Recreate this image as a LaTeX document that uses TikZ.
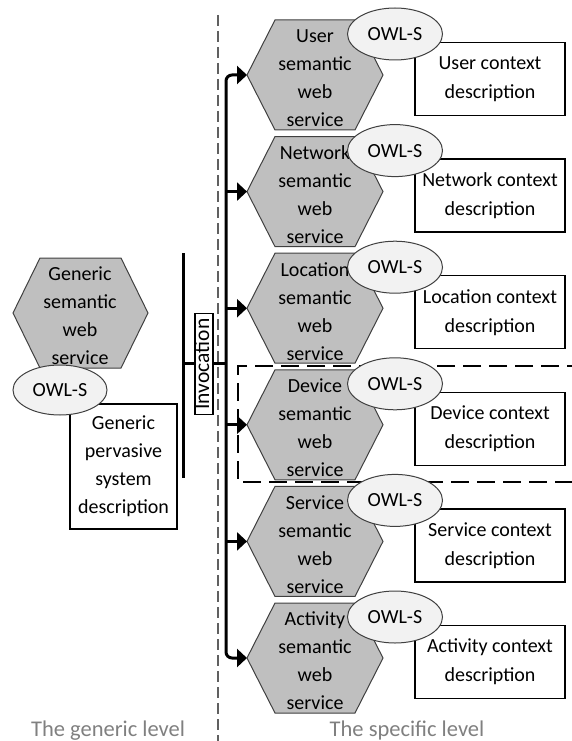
\documentclass[tikz,border=0pt]{standalone}
\usepackage{fontspec}
\setmainfont{Carlito}
\usetikzlibrary{arrows.meta,shapes.geometric}
\definecolor{hexgray}{HTML}{BFBFBF}
\definecolor{hexline}{HTML}{404040}
\definecolor{owlgray}{HTML}{F2F2F2}
\definecolor{lvlgray}{HTML}{808080}
\definecolor{sepgray}{HTML}{606060}
\begin{document}
\begin{tikzpicture}[x=1pt,y=-1pt,
  hexstyle/.style={fill=hexgray,draw=hexline,line width=1pt},
  txt/.style={font=\fontsize{20}{28}\selectfont,align=center,inner sep=0pt},
  owl/.style={ellipse,draw=hexline,fill=owlgray,line width=1pt,minimum width=95pt,minimum height=52pt,inner sep=0pt,font=\fontsize{20}{24}\selectfont},
  ctx/.style={draw=black,line width=1.3pt,fill=white,minimum width=150pt,minimum height=73pt,align=center,inner sep=0pt,font=\fontsize{20}{29}\selectfont},
  wire/.style={line width=3pt,black},
  tip/.style={-{Triangle[length=10pt,width=18pt]}},
  lvl/.style={font=\fontsize{22.5}{26}\selectfont,text=lvlgray,anchor=base,inner sep=0pt}
]
\useasboundingbox (0,0) rectangle (572,741);

% separator and highlighted device row
\coordinate (dt) at (218,15);
\coordinate (db) at (218,741);
\draw[line width=1.8pt,draw=sepgray,dash pattern=on 11pt off 5pt] (dt) -- (db);
\coordinate (r1) at (585,366);
\coordinate (r2) at (238,366);
\coordinate (r3) at (238,482);
\coordinate (r4) at (585,482);
\draw[line width=1.8pt,dash pattern=on 18pt off 8pt] (r1) -- (r2) -- (r3) -- (r4);

% generic level
\draw[hexstyle] (13,313) -- (40,258) -- (121,258) -- (148,313) -- (121,368) -- (40,368) -- cycle;
\node[txt] (gh) at (80,316) {Generic\\semantic\\web\\service};
\node[ctx,minimum width=107pt,minimum height=125pt,font=\fontsize{20}{28}\selectfont] (gb) at (123.5,466.5) {Generic\\pervasive\\system\\description};
\node[owl,minimum width=94pt,minimum height=50pt] (go) at (60,390) {OWL-S};

% specific level
\foreach \i/\w in {0/User,1/Network,2/Location,3/Device,4/Service,5/Activity}{
  \pgfmathsetmacro\yy{75+116.6*\i}
  \draw[hexstyle] (247,\yy) -- (275,\yy-55) -- (355,\yy-55) -- (383,\yy) -- (355,\yy+55) -- (275,\yy+55) -- cycle;
  \coordinate (hw\i) at (247,\yy);
  \coordinate (sp\i) at (226,\yy);
  \node[txt] (ht\i) at (315,\yy+3) {\w\\semantic\\web\\service};
  \node[ctx] (cx\i) at (490,\yy+4) {\w{} context\\description};
  \node[owl] (ow\i) at (395,\yy-41) {OWL-S};
}

% invocation wiring
\draw[wire,rounded corners=6pt,{Triangle[length=10pt,width=18pt]}-{Triangle[length=10pt,width=18pt]}] (hw0) -- (sp0) -- (sp5) -- (hw5);
\foreach \i in {1,...,4}{
  \draw[wire,tip] (sp\i) -- (hw\i);
}
\coordinate (bt) at (183,253);
\coordinate (bb) at (183,478);
\coordinate (bm) at (183,363);
\coordinate (sm) at (226,363);
\draw[wire] (bt) -- (bb);
\draw[wire] (bm) -- (sm);
\node[draw=black,line width=1.2pt,fill=white,rotate=90,inner xsep=4pt,inner ysep=0pt,text height=14pt,text depth=4pt,minimum width=101pt,font=\fontsize{21.5}{22}\selectfont] (inv) at (204,364) {Invocation};

% level labels
\node[lvl] (lg) at (108,736) {The generic level};
\node[lvl] (ls) at (407,736) {The specific level};
\end{tikzpicture}
\end{document}
